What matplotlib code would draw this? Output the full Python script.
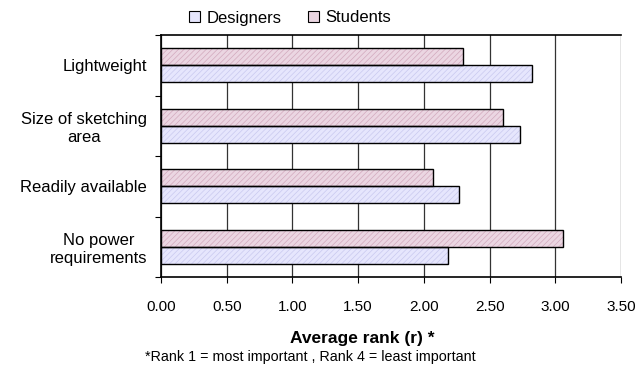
import matplotlib
matplotlib.use("Agg")
import matplotlib.pyplot as plt
import numpy as np

plt.rcParams['font.family'] = ['Liberation Sans', 'DejaVu Sans']
plt.rcParams['hatch.linewidth'] = 0.5

categories = ["Lightweight", "Size of sketching\narea", "Readily available",
              "No power\nrequirements"]
designers = [2.82, 2.73, 2.27, 2.18]
students = [2.30, 2.60, 2.07, 3.06]
xticks = [0.0, 0.5, 1.0, 1.5, 2.0, 2.5, 3.0, 3.5]

fig = plt.figure(figsize=(6.4, 3.72), dpi=100)
ax = fig.add_axes([161/640, 1 - 277/372, 460/640, 242/372])

y = np.arange(len(categories))
h = 0.28
ax.barh(y - h/2, students, height=h, color="#ebd6e2", edgecolor="#d2a9bd",
        hatch="//////", linewidth=0, label="Students", zorder=2)
ax.barh(y + h/2, designers, height=h, color="#e6e6fd", edgecolor="#c9c9ef",
        hatch="//////", linewidth=0, label="Designers", zorder=2)
# outlines
ax.barh(y - h/2, students, height=h, fill=False, edgecolor="black",
        linewidth=1.0, zorder=3)
ax.barh(y + h/2, designers, height=h, fill=False, edgecolor="black",
        linewidth=1.0, zorder=3)

ax.set_xlim(0, 3.5)
ax.set_ylim(len(categories) - 0.5, -0.5)
ax.set_xticks(xticks)
ax.set_xticklabels([f"{v:.2f}" for v in xticks], fontsize=11)
ax.set_yticks(y)
ax.set_yticklabels(categories, fontsize=12, linespacing=1.2, multialignment='center')
ax.set_yticks(np.arange(-0.5, len(categories)), minor=True)
ax.tick_params(axis='y', which='major', length=0, pad=10)
ax.tick_params(axis='y', which='minor', length=4, direction='out', width=0.8)
ax.tick_params(axis='x', length=4, direction='out', width=0.8, pad=12.5)

ax.grid(axis='x', color="#333333", linewidth=0.9, zorder=0)
for s in ['top', 'right']:
    ax.spines[s].set_visible(False)
ax.axhline(-0.5, color="black", linewidth=1.2, zorder=4, clip_on=False)
ax.spines['left'].set_linewidth(1.2)
ax.spines['bottom'].set_linewidth(1.2)

fig.text(362/640, 1 - 339/372, "Average rank (r) *", ha='center', va='center',
         fontsize=12.5, fontweight='bold')
fig.text(310/640, 1 - 357/372, "*Rank 1 = most important , Rank 4 = least important",
         ha='center', va='center', fontsize=10.3)

handles, labels = ax.get_legend_handles_labels()
leg = fig.legend(handles[::-1], labels[::-1], loc='center', bbox_to_anchor=(290/640, 1 - 18/372),
                 ncol=2, frameon=False, fontsize=12, handlelength=0.65, handleheight=0.65,
                 columnspacing=1.6, handletextpad=0.4)
for p in leg.get_patches():
    p.set_edgecolor("black")
    p.set_linewidth(0.8)
    p.set_hatch(None)

fig.savefig("out.png", dpi=100)
